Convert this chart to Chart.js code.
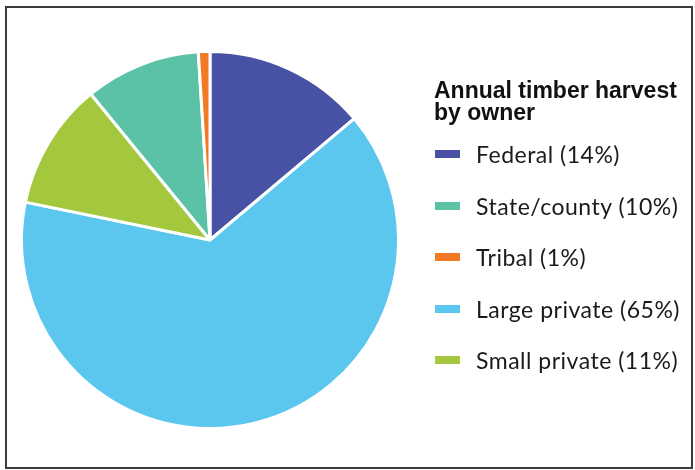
<!DOCTYPE html>
<html>
<head>
<meta charset="utf-8">
<script src="https://cdn.jsdelivr.net/npm/chart.js@4"></script>
<style>
  html, body { margin: 0; padding: 0; background: #fff; }
  body { width: 695px; height: 470px; position: relative; overflow: hidden; }
  #frame { position: absolute; left: 5px; top: 6px; width: 684px; height: 459px; border: 2px solid #3a3a3a; }
  #pieBox { position: absolute; left: 20px; top: 50px; width: 380px; height: 380px; }
  #legend { position: absolute; left: 0; top: 0; width: 695px; height: 470px; }
  #legend h3 { position: absolute; left: 434px; top: 79px; margin: 0; font: bold 23px "Liberation Sans", Arial, sans-serif; line-height: 22px; color: #111; white-space: nowrap; }
  #legend ul { list-style: none; margin: 0; padding: 0; }
  #legend li { position: absolute; left: 435px; height: 28px; width: 258px; font: 23px Lato, "Open Sans", sans-serif; letter-spacing: 0.5px; color: #1a1a1a; }
  #legend li span.sw { position: absolute; left: 0; top: 10px; width: 25px; height: 8px; }
  #legend li span.tx { position: absolute; left: 41px; top: 0; line-height: 28px; white-space: nowrap; }
</style>
</head>
<body>
<div id="frame"></div>
<div id="pieBox"><canvas id="pieChart"></canvas></div>
<div id="legend">
  <h3>Annual timber harvest<br>by owner</h3>
  <ul id="legendList"></ul>
</div>
<script>
  // slices, clockwise from 12 o'clock
  const owners = ["Federal", "Large private", "Small private", "State/county", "Tribal"];
  const shares = [14, 65, 11, 10, 1];
  const colors = ["#4852a4", "#5bc7ef", "#a3c83e", "#5cc2a7", "#f07a26"];

  // legend order as printed on the figure
  const legendOrder = ["Federal", "State/county", "Tribal", "Large private", "Small private"];

  new Chart(document.getElementById("pieChart"), {
    type: "pie",
    data: {
      labels: owners,
      datasets: [
        {
          data: shares,
          backgroundColor: colors,
          borderColor: "#ffffff",
          borderWidth: 3,
        },
      ],
    },
    options: {
      responsive: true,
      maintainAspectRatio: false,
      animation: false,
      events: [],
      layout: { padding: 0 },
      plugins: {
        legend: { display: false },
        tooltip: { enabled: false },
      },
    },
  });

  // build the legend from the same arrays
  const list = document.getElementById("legendList");
  legendOrder.forEach((name, i) => {
    const idx = owners.indexOf(name);
    const li = document.createElement("li");
    li.style.top = 140 + i * 51.5 + "px";
    li.innerHTML =
      '<span class="sw" style="background:' + colors[idx] + '"></span>' +
      '<span class="tx">' + name + " (" + shares[idx] + "%)</span>";
    list.appendChild(li);
  });
</script>
</body>
</html>
